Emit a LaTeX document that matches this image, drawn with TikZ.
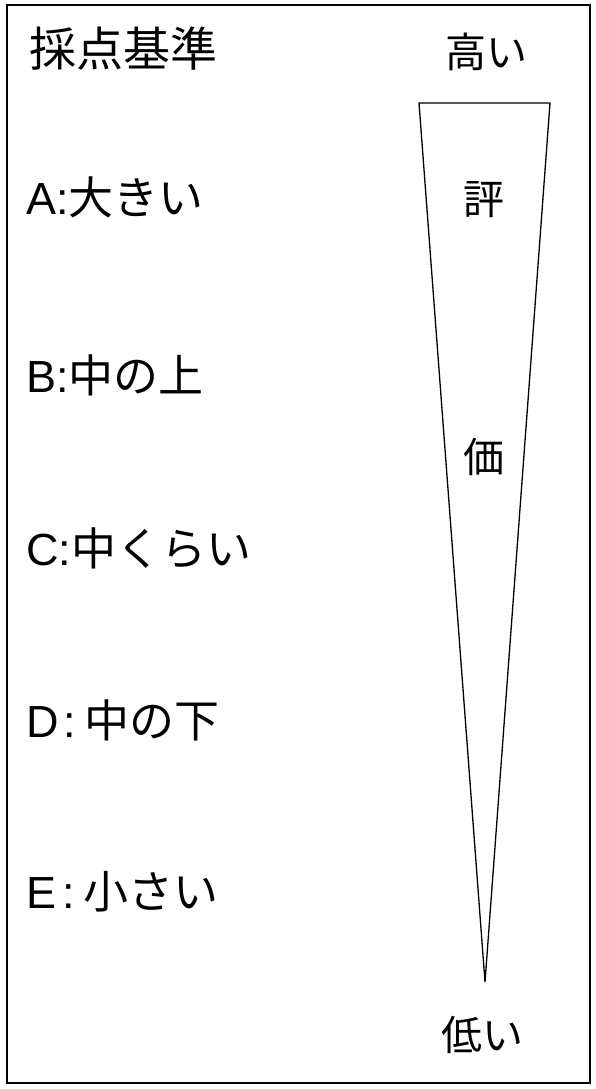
\documentclass[tikz,border=0pt]{standalone}
\usepackage{fontspec}
\setmainfont{Liberation Sans}
\newfontfamily\jp{Noto Sans CJK JP}
\usetikzlibrary{positioning}

\begin{document}
\begin{tikzpicture}[
    x=1pt, y=-1pt,
    crit/.style={anchor=base west, inner sep=0pt, font=\fontsize{45}{45}\selectfont},
    scale label/.style={inner sep=0pt, font=\jp\fontsize{41}{41}\selectfont}
]
    \useasboundingbox (0,0) rectangle (596,1089);

    % Frame
    \draw[line width=1.6pt] (7,5) rectangle (590,1083);

    % Title
    \node[inner sep=0pt, font=\jp\fontsize{47}{47}\selectfont] (title) at (123,49) {採点基準};

    % Grades
    \node[crit] (gradeA) at (26,214) {A:{\jp 大きい}};
    \node[crit] (gradeB) at (26,392) {B:{\jp 中の上}};
    \node[crit] (gradeC) at (26,565) {C:{\jp 中くらい}};
    \node[crit] (gradeD) at (26,737) {D\hspace{5pt}:\hspace{8pt}{\jp 中の下}};
    \node[crit] (gradeE) at (26,908) {E\hspace{6pt}:\hspace{9pt}{\jp 小さい}};

    % Wedge
    \coordinate (wedgeL) at (419,103);
    \coordinate (wedgeR) at (550,103);
    \coordinate (wedgeTip) at (485,982);
    \draw[line width=1.3pt, line join=miter] (wedgeL) -- (wedgeR) -- (wedgeTip) -- cycle;

    \node[scale label] (high) at (486,52) {高い};
    \node[scale label] (hyo) at (484,200) {評};
    \node[scale label] (ka) at (484,457) {価};
    \node[scale label] (low) at (482,1035) {低い};

\end{tikzpicture}
\end{document}
